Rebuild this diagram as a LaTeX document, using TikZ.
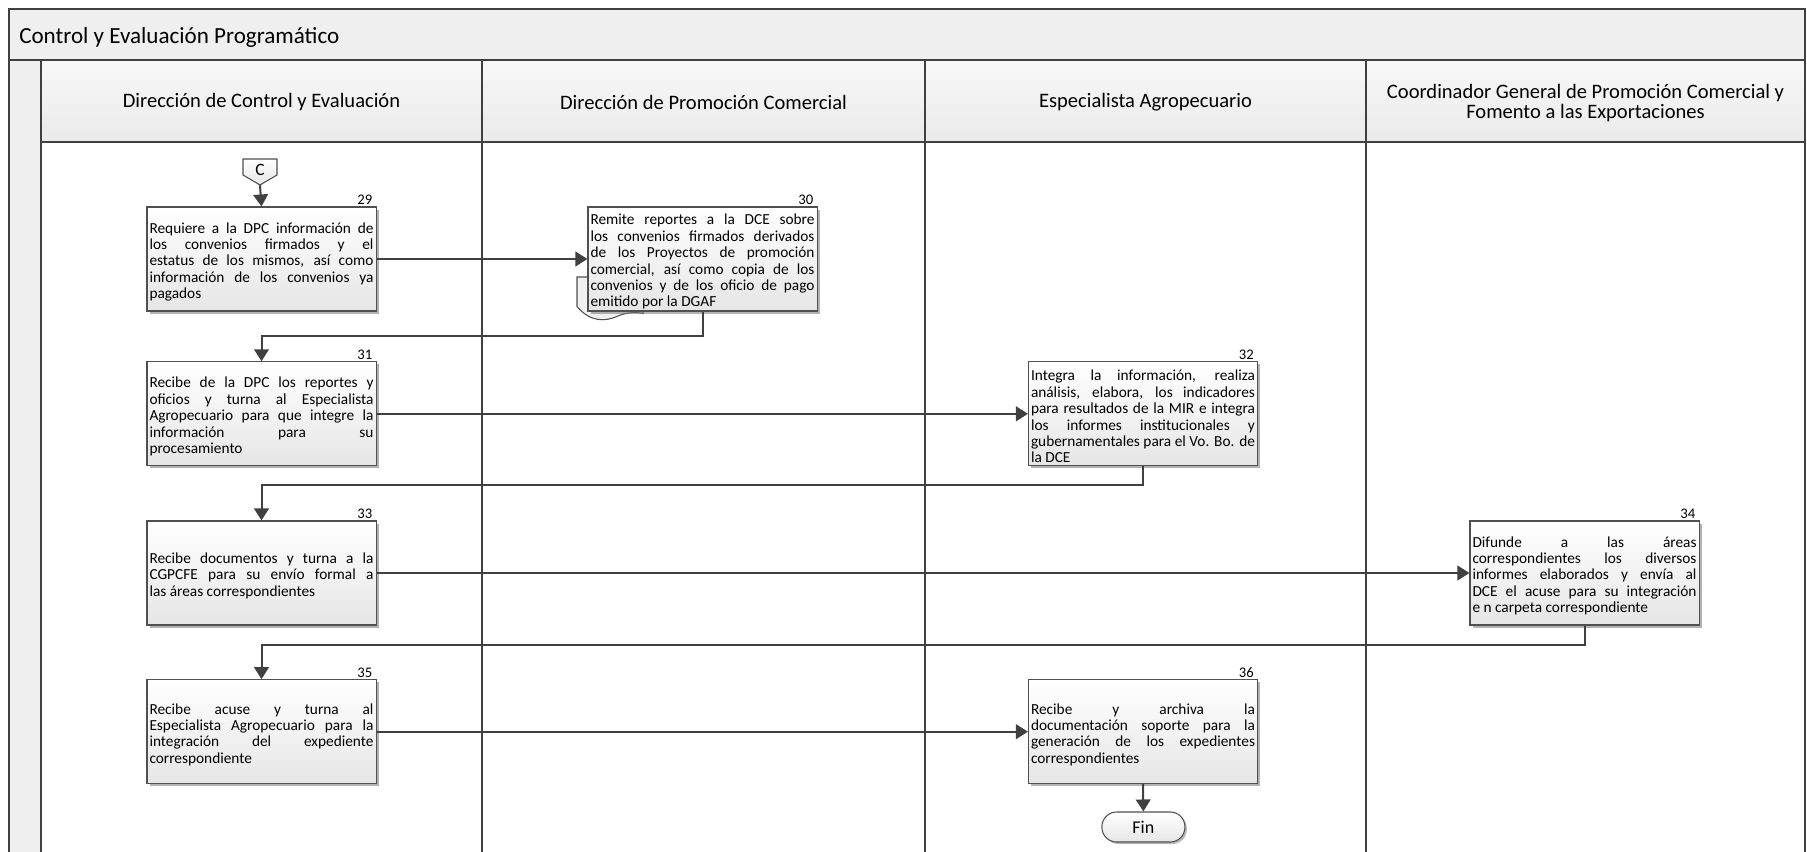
\documentclass[tikz,border=0pt]{standalone}
\usepackage{fontspec}
\setmainfont{Carlito}
\usetikzlibrary{arrows.meta,shadows,calc}

\definecolor{linegray}{HTML}{404040}
\definecolor{boxborder}{HTML}{505050}
\definecolor{headfill}{HTML}{EFEFEF}

\tolerance=10000
\hbadness=10000
\hfuzz=20pt
\hyphenpenalty=10000
\exhyphenpenalty=10000

\begin{document}
\begin{tikzpicture}[x=0.75pt,y=-0.75pt,
  lane/.style={draw=linegray, line width=1.4pt},
  task/.style={draw=boxborder, line width=0.8pt, top color=white, bottom color=black!10,
    drop shadow={shadow xshift=2pt, shadow yshift=-2pt, fill=black!55, opacity=0.55},
    minimum width=171.75pt, minimum height=78pt, text width=168pt, inner xsep=1.9pt, inner ysep=0pt,
    align=justify, font=\fontsize{11.5}{12.3}\selectfont,
    execute at begin node={\rule{0pt}{12.3pt}}},
  num/.style={anchor=base east, inner sep=0pt, font=\fontsize{11}{11}\selectfont},
  flow/.style={draw=linegray, line width=1.5pt, -{Triangle[length=9pt,width=11pt]}},
  lanehead/.style={font=\fontsize{15.4}{15}\selectfont, align=center, inner sep=0pt},
]
\useasboundingbox (0,0) rectangle (1807,852);
\clip (0,0) rectangle (1807,852);

% pool frame, title bar, header row and lane strip
\fill[white] (0,0) rectangle (1807,852);
\fill[headfill] (9,9) rectangle (1805,60);
\shade[top color=black!3, bottom color=black!8] (41,60) rectangle (1805,142);
\fill[headfill] (9,60) rectangle (41,870);
\draw[lane] (9,870) -- (9,9) -- (1805,9) -- (1805,870);
\draw[lane] (9,60) -- (1805,60);
\draw[lane] (41,60) -- (41,870);
\draw[lane] (41,142) -- (1805,142);
\draw[lane] (481.7,60) -- (481.7,870);
\draw[lane] (925.4,60) -- (925.4,870);
\draw[lane] (1365.6,60) -- (1365.6,870);

\node[anchor=west, inner sep=0pt, font=\fontsize{17.3}{20}\selectfont] (title) at (19,37) {Control y Evaluación Programático};

\node[lanehead] (h1) at (261.5,102) {Dirección de Control y Evaluación};
\node[lanehead] (h2) at (703.5,102) {Dirección de Promoción Comercial};
\node[lanehead] (h3) at (1145.5,102) {Especialista Agropecuario};
\node[lanehead] (h4) at (1585.5,103) {Coordinador General de Promoción Comercial y\\Fomento a las Exportaciones};

% off-page connector
\coordinate (Cc) at (260,172);
\draw[draw=boxborder, line width=0.8pt, top color=white, bottom color=black!10]
  ($(Cc)+(-17,-13)$) -- ($(Cc)+(17,-13)$) -- ($(Cc)+(17,3)$) -- ($(Cc)+(0,13)$) -- ($(Cc)+(-17,3)$) -- cycle;
\node[minimum width=25.5pt, minimum height=19.5pt, inner sep=0pt, font=\fontsize{13}{13}\selectfont] (C) at (Cc) {\raisebox{2.5pt}{C}};

% document attached behind step 30
\draw[draw=boxborder, line width=0.8pt, fill=black!6]
  (577,277) -- (577,306.5) .. controls (590,322) and (605,322) .. (618,316)
  .. controls (628,312) and (636,312) .. (643,313.5) -- (643,277) -- cycle;

% steps
\node[task] (b29) at (261.5,259) {Requiere a la DPC información de\linebreak los convenios firmados y el\linebreak estatus de los mismos, así como\linebreak información de los convenios ya\linebreak pagados};
\node[task] (b30) at (702.5,259) {Remite reportes a la DCE  sobre\linebreak los convenios firmados derivados\linebreak de los Proyectos de promoción\linebreak comercial, así como copia  de los\linebreak convenios y de los oficio de pago\linebreak emitido por la DGAF};
\node[task] (b31) at (261.5,413.8) {Recibe de la DPC  los reportes y\linebreak oficios y turna al Especialista\linebreak Agropecuario para que integre la\linebreak información para su\linebreak procesamiento};
\node[task] (b32) at (1143,413.8) {Integra la información, realiza\linebreak análisis, elabora,  los indicadores\linebreak para resultados de la MIR e integra\linebreak los informes institucionales y\linebreak gubernamentales para el Vo. Bo. de\linebreak la DCE};
\node[task] (b33) at (261.5,573) {Recibe documentos y turna a la\linebreak CGPCFE para su envío formal a\linebreak las áreas correspondientes};
\node[task] (b34) at (1584.5,573) {Difunde a las áreas\linebreak correspondientes los diversos\linebreak informes elaborados y envía al\linebreak DCE el acuse para su integración\linebreak e n carpeta correspondiente};
\node[task] (b35) at (261.5,731.7) {Recibe acuse y turna al\linebreak Especialista Agropecuario para la\linebreak integración del expediente\linebreak correspondiente};
\node[task] (b36) at (1143,731.7) {Recibe y archiva la\linebreak documentación soporte para la\linebreak generación de los  expedientes\linebreak correspondientes};

\node[draw=boxborder, line width=0.8pt, rounded corners=11pt, minimum width=62.25pt, minimum height=22.5pt,
  top color=white, bottom color=black!10, drop shadow={shadow xshift=1.5pt, shadow yshift=-1.5pt, fill=black!55, opacity=0.5},
  font=\fontsize{13.5}{13.5}\selectfont] (fin) at (1143.4,827) {Fin};

% step numbers
\foreach \b/\n in {b29/29, b30/30, b31/31, b32/32, b33/33, b34/34, b35/35, b36/36}
  \node[num] (n\n) at ($(\b.north east)+(-4,-1.5)$) {\n};

% connectors
\draw[flow] (C.south) -- (b29.north);
\draw[flow] (b29.east) -- (b30.west);
\draw[flow] (b30.south) -- ++(0,24) -| (b31.north);
\draw[flow] (b31.east) -- (b32.west);
\draw[flow] (b32.south) -- ++(0,19) -| (b33.north);
\draw[flow] (b33.east) -- (b34.west);
\draw[flow] (b34.south) -- ++(0,19.5) -| (b35.north);
\draw[flow] (b35.east) -- (b36.west);
\draw[flow] (b36.south) -- (fin.north);
\end{tikzpicture}
\end{document}
